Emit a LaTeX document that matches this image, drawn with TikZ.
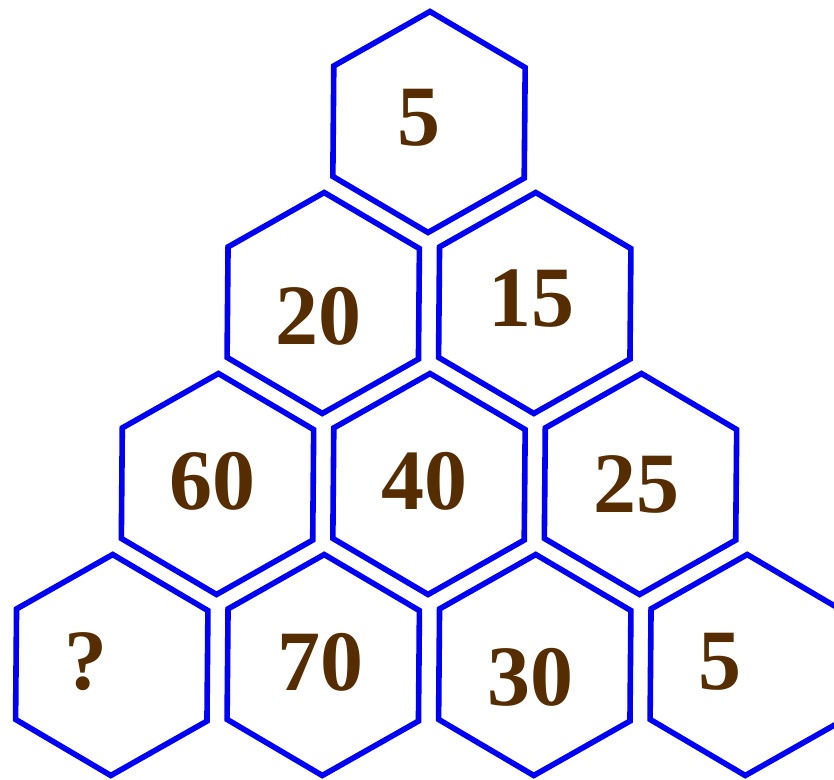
\documentclass[tikz,border=0pt]{standalone}
\usepackage{fontspec}
\setmainfont{Liberation Serif}
\definecolor{hexblue}{RGB}{0,0,245}
\definecolor{numbrown}{RGB}{85,45,0}
\tikzset{
  hexline/.style={draw=hexblue, line width=5.6pt, line join=miter},
  numlabel/.style={text=numbrown, inner sep=0pt, font=\fontsize{86}{86}\selectfont\bfseries},
}
\newcommand\hexR{110.5}
\newcommand\hexat[2]{%
  \draw[hexline] ({#1+\hexR*sin(0.5)},{#2-\hexR*cos(0.5)})
    -- ({#1+\hexR*sin(60.5)},{#2-\hexR*cos(60.5)})
    -- ({#1+\hexR*sin(120.5)},{#2-\hexR*cos(120.5)})
    -- ({#1+\hexR*sin(180.5)},{#2-\hexR*cos(180.5)})
    -- ({#1+\hexR*sin(240.5)},{#2-\hexR*cos(240.5)})
    -- ({#1+\hexR*sin(300.5)},{#2-\hexR*cos(300.5)})
    -- cycle;}
\begin{document}
\begin{tikzpicture}[x=1pt,y=-1pt]
\useasboundingbox (0,0) rectangle (834,779);
\fill[white] (0,0) rectangle (834,779);
% hexagons: row r, col c
\foreach \r/\c in {0/0,1/0,1/1,2/0,2/1,2/2,3/0,3/1,3/2,3/3}{
  \pgfmathsetmacro\cx{429-105.75*\r+211.5*\c}
  \pgfmathsetmacro\cy{122+181*\r}
  \hexat{\cx}{\cy}
}
\node[numlabel] (n00) at (418.5,118) {5};
\node[numlabel] (n10) at (318,316) {20};
\node[numlabel] (n11) at (531,299) {15};
\node[numlabel] (n20) at (212,481) {60};
\node[numlabel] (n21) at (424,481) {40};
\node[numlabel] (n22) at (636,484) {25};
\node[numlabel] (n30) at (86,662) {?};
\node[numlabel] (n31) at (320,662) {70};
\node[numlabel] (n32) at (530,677) {30};
\node[numlabel] (n33) at (720,662) {5};
\end{tikzpicture}
\end{document}
